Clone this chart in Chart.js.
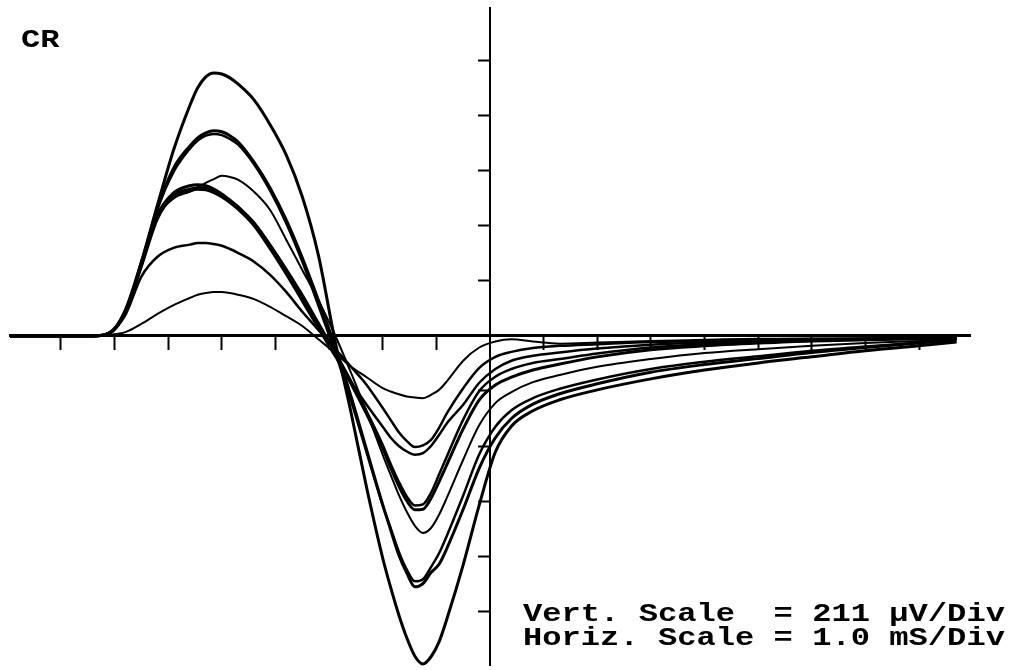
<!DOCTYPE html>
<html>
<head>
<meta charset="utf-8">
<script src="https://cdn.jsdelivr.net/npm/chart.js@4.4.1/dist/chart.umd.min.js"></script>
<style>
  html, body { margin: 0; padding: 0; background: #fff; }
  #wrap { position: relative; width: 1013px; height: 670px; overflow: hidden; background: #fff; }
  #c { position: absolute; left: 0; top: 0; }
  .lbl {
    position: absolute;
    font-family: "Liberation Mono", "DejaVu Sans Mono", monospace;
    font-weight: bold;
    font-size: 25px;
    line-height: 25px;
    color: #000;
    white-space: pre;
    transform-origin: 0 0;
    transform: scaleX(1.285);
  }
</style>
</head>
<body>
<div id="wrap">
  <canvas id="c" width="1013" height="670"></canvas>
  <div class="lbl" style="left:21px; top:28px;">CR</div>
  <div class="lbl" style="left:523px; top:602px;">Vert. Scale  = 211 µV/Div</div>
  <div class="lbl" style="left:523px; top:626px;">Horiz. Scale = 1.0 mS/Div</div>
</div>
<script>
// Time axis in ms (1.0 ms/Div); amplitudes in divisions (211 µV/Div)
const timeMs = [-8.95, -7.4, -7.1, -6.8, -6.5, -6.2, -5.9, -5.6, -5.45, -5.3, -5.15, -5.0, -4.85, -4.7, -4.4, -4.1, -3.8, -3.5, -3.2, -2.9, -2.6, -2.3, -2.0, -1.85, -1.7, -1.55, -1.4, -1.25, -1.1, -0.95, -0.8, -0.5, -0.2, 0.1, 0.4, 0.8, 1.3, 2.0, 3.0, 4.0, 5.0, 6.0, 7.0, 8.0, 8.7];

const traceA  = [0, 0, 0.05, 0.47, 1.35, 2.38, 3.38, 4.18, 4.51, 4.71, 4.78, 4.76, 4.69, 4.58, 4.29, 3.84, 3.29, 2.53, 1.47, -0.04, -1.35, -2.76, -4.04, -4.58, -5.07, -5.49, -5.82, -5.96, -5.83, -5.56, -5.13, -4.16, -3.07, -2.11, -1.64, -1.36, -1.16, -0.98, -0.78, -0.62, -0.49, -0.38, -0.27, -0.18, -0.11];
const traceB1 = [0, 0, 0.05, 0.45, 1.33, 2.33, 3.05, 3.45, 3.6, 3.69, 3.73, 3.71, 3.64, 3.53, 3.16, 2.69, 2.11, 1.42, 0.65, -0.16, -1.07, -2.07, -3.07, -3.53, -3.98, -4.31, -4.56, -4.5, -4.3, -4.15, -3.85, -3.15, -2.4, -1.85, -1.5, -1.24, -1.05, -0.87, -0.66, -0.52, -0.41, -0.3, -0.21, -0.13, -0.07];
const traceB2 = [0, 0, 0.04, 0.44, 1.31, 2.3, 2.98, 3.4, 3.55, 3.64, 3.67, 3.65, 3.58, 3.48, 3.12, 2.64, 2.05, 1.35, 0.55, -0.26, -1.15, -2.12, -3.08, -3.5, -3.92, -4.25, -4.46, -4.42, -4.2, -3.95, -3.62, -2.9, -2.15, -1.65, -1.35, -1.13, -0.96, -0.79, -0.6, -0.47, -0.37, -0.27, -0.19, -0.12, -0.06];
const traceC  = [0, 0, 0.04, 0.42, 1.27, 2.15, 2.5, 2.62, 2.7, 2.78, 2.85, 2.91, 2.89, 2.84, 2.62, 2.29, 1.75, 1.2, 0.65, 0.04, -0.65, -1.38, -2.16, -2.53, -2.89, -3.2, -3.45, -3.58, -3.49, -3.25, -2.93, -2.25, -1.62, -1.22, -1.02, -0.84, -0.71, -0.56, -0.42, -0.31, -0.24, -0.18, -0.13, -0.09, -0.05];
const traceD1 = [0, 0, 0.05, 0.44, 1.29, 2.2, 2.6, 2.73, 2.75, 2.73, 2.67, 2.58, 2.47, 2.35, 2.05, 1.64, 1.18, 0.7, 0.18, -0.32, -0.85, -1.42, -2.04, -2.4, -2.73, -3.0, -3.16, -3.15, -2.95, -2.65, -2.33, -1.69, -1.16, -0.89, -0.75, -0.62, -0.51, -0.38, -0.25, -0.18, -0.13, -0.09, -0.07, -0.05, -0.04];
const traceD2 = [0, 0, 0.05, 0.43, 1.25, 2.12, 2.55, 2.67, 2.7, 2.69, 2.64, 2.56, 2.46, 2.34, 2.06, 1.66, 1.22, 0.75, 0.24, -0.27, -0.8, -1.37, -1.98, -2.33, -2.65, -2.92, -3.08, -3.06, -2.85, -2.52, -2.18, -1.52, -1.0, -0.74, -0.6, -0.49, -0.42, -0.32, -0.21, -0.15, -0.11, -0.08, -0.06, -0.04, -0.03];
const traceD3 = [0, 0, 0.06, 0.45, 1.3, 2.15, 2.52, 2.63, 2.66, 2.65, 2.6, 2.52, 2.42, 2.3, 2.0, 1.58, 1.12, 0.63, 0.14, -0.35, -0.82, -1.25, -1.65, -1.85, -2.0, -2.1, -2.16, -2.13, -2.0, -1.8, -1.58, -1.25, -0.85, -0.6, -0.45, -0.36, -0.3, -0.23, -0.16, -0.12, -0.09, -0.07, -0.05, -0.03, -0.02];
const traceE  = [0, 0, 0.05, 0.38, 1.08, 1.44, 1.6, 1.66, 1.69, 1.69, 1.67, 1.64, 1.58, 1.51, 1.35, 1.11, 0.8, 0.44, 0.11, -0.22, -0.55, -0.89, -1.31, -1.53, -1.75, -1.91, -2.02, -1.99, -1.89, -1.67, -1.4, -0.95, -0.58, -0.38, -0.29, -0.22, -0.18, -0.15, -0.11, -0.09, -0.07, -0.05, -0.05, -0.04, -0.04];
const traceF  = [0, 0, 0.02, 0.07, 0.22, 0.4, 0.56, 0.69, 0.75, 0.78, 0.8, 0.8, 0.78, 0.75, 0.67, 0.53, 0.36, 0.18, -0.06, -0.3, -0.55, -0.75, -0.95, -1.01, -1.06, -1.1, -1.12, -1.13, -1.07, -0.98, -0.82, -0.45, -0.21, -0.1, -0.06, -0.1, -0.14, -0.12, -0.09, -0.07, -0.05, -0.05, -0.04, -0.04, -0.04];

const xTickValues = [-8, -7, -6, -5, -4, -3, -2, -1, 1, 2, 3, 4, 5, 6, 7, 8];
const yTickValues = [-5, -4, -3, -2, -1, 1, 2, 3, 4, 5];

const seriesList = [traceA, traceB1, traceB2, traceC, traceD1, traceD2, traceD3, traceE, traceF];
const seriesNames = ['A', 'B1', 'B2', 'C', 'D1', 'D2', 'D3', 'E', 'F'];
const lineWidths = [3, 3, 2.5, 2, 3, 2.5, 2.5, 2.5, 2];

const datasets = seriesList.map((vals, k) => ({
  label: seriesNames[k],
  data: timeMs.map((t, i) => ({ x: t, y: vals[i] })),
  borderColor: '#000',
  borderWidth: lineWidths[k],
  pointRadius: 0,
  fill: false,
  cubicInterpolationMode: 'monotone',
  borderJoinStyle: 'round',
  clip: false
}));

new Chart(document.getElementById('c').getContext('2d'), {
  type: 'line',
  data: { datasets },
  options: {
    responsive: false,
    animation: false,
    events: [],
    layout: { padding: { left: 10, right: 43, top: 8, bottom: 5 } },
    plugins: { legend: { display: false }, tooltip: { enabled: false }, title: { display: false } },
    scales: {
      x: {
        type: 'linear',
        min: -8.95,
        max: 8.95,
        position: { y: 0 },
        afterBuildTicks: (s) => { s.ticks = xTickValues.map(v => ({ value: v })); },
        ticks: { display: false },
        grid: { display: true, drawOnChartArea: false, drawTicks: true, tickLength: 13, tickWidth: 2, tickColor: '#000', color: '#000' },
        border: { display: true, color: '#000', width: 3 }
      },
      y: {
        type: 'linear',
        min: -5.98,
        max: 5.96,
        position: { x: 0 },
        afterBuildTicks: (s) => { s.ticks = yTickValues.map(v => ({ value: v })); },
        ticks: { display: false },
        grid: { display: true, drawOnChartArea: false, drawTicks: true, tickLength: 11, tickWidth: 2, tickColor: '#000', color: '#000' },
        border: { display: true, color: '#000', width: 2 }
      }
    }
  }
});
</script>
</body>
</html>
